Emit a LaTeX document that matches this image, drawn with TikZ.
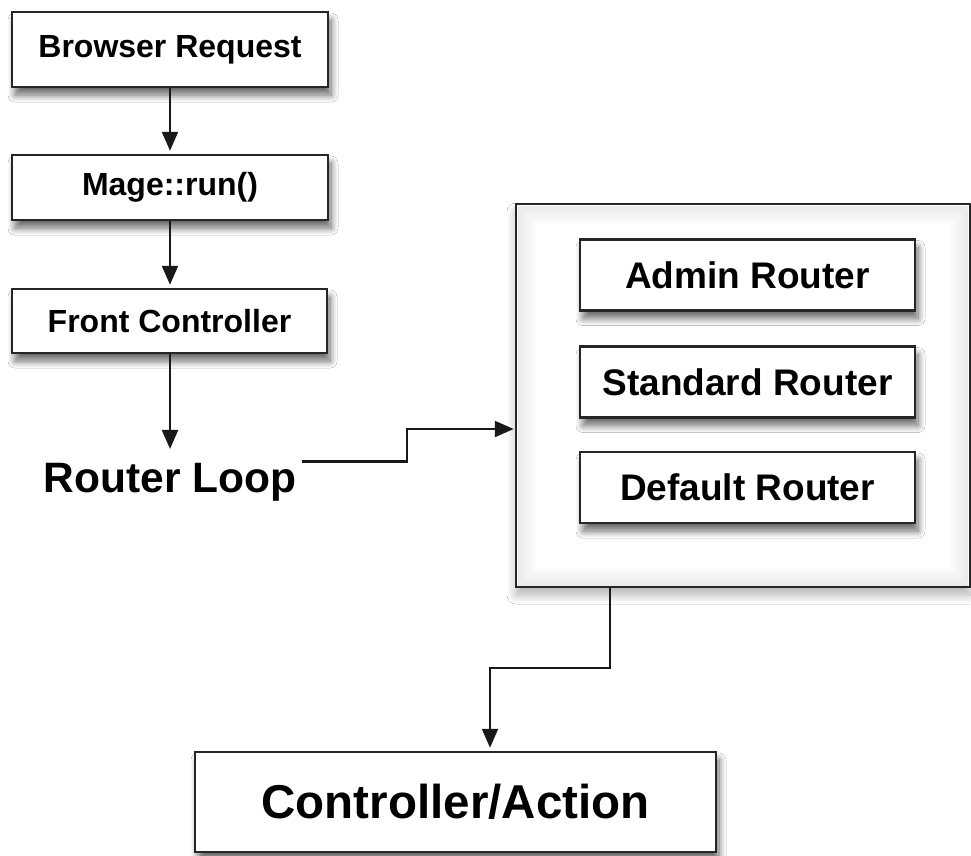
\documentclass[tikz,border=0pt]{standalone}
\usepackage{fontspec}
\setmainfont{Liberation Sans}
\usetikzlibrary{arrows.meta,shadows.blur,calc}
\begin{document}
\begin{tikzpicture}[x=1pt,y=-1pt,
  box/.style={draw=black!85,line width=2.5pt,fill=white,rectangle,inner sep=0pt,
    font=\bfseries\fontsize{32}{36}\selectfont,
    blur shadow={shadow xshift=3pt,shadow yshift=-8pt,shadow blur radius=7pt,shadow blur steps=12,shadow opacity=60}},
  rbox/.style={box,font=\bfseries\fontsize{37}{42}\selectfont,minimum width=335pt,minimum height=71pt},
  arr/.style={draw=black!90,line width=2.2pt,-{Triangle[width=16pt,length=19pt]},shorten >=3pt}]
\useasboundingbox (0,0) rectangle (971,855);
\fill[white] (0,0) rectangle (971,855);
% container
\node[draw=black!85,line width=2.5pt,fill=white,rectangle,inner sep=0pt,
  minimum width=454pt,minimum height=383pt,
  blur shadow={shadow xshift=0pt,shadow yshift=-8pt,shadow blur radius=9pt,shadow blur steps=12,shadow opacity=30}] (bb) at (743,395.5) {};
\foreach \i/\o in {1/6,2/5,3/4,4/3,5/2,6/1}{
  \draw[black,opacity=0.014*\o,line width=3pt] (516+3*\i,204+3*\i) rectangle (969-3*\i,587-3*\i);
}
% left column
\node[box,minimum width=316pt,minimum height=75pt] (br) at (170,49.5) {Browser Request};
\node[box,minimum width=316pt,minimum height=65pt] (mr) at (170,187.5) {Mage::run()};
\node[box,minimum width=315pt,minimum height=64pt] (fc) at (169.5,321) {Front Controller};
\node[anchor=base,font=\bfseries\fontsize{42.5}{46}\selectfont,inner xsep=5pt,inner ysep=13.6pt] (rl) at (170,492) {Router Loop};
% routers
\node[rbox] (ar) at (747.5,275) {Admin Router};
\node[rbox] (sr) at (747.5,382) {Standard Router};
\node[rbox] (dr) at (747.5,487.5) {Default Router};
% bottom
\node[box,font=\bfseries\fontsize{47.5}{52}\selectfont,minimum width=521pt,minimum height=100pt] (ca) at (455.5,802) {Controller/Action};
% connectors
\draw[arr] (br.south -| 170,0) -- (mr.north -| 170,0);
\draw[arr] (mr.south -| 170,0) -- (fc.north -| 170,0);
\draw[arr,shorten >=0pt] (fc.south -| 170,0) -- (rl.north -| 170,0);
\draw[arr,shorten >=1pt] ([yshift=20.3pt]rl.east) -| (407,429) -- (bb.west |- 0,429);
\draw[arr] (bb.south -| 610,0) -- (610,668) -| (ca.north -| 490,0);
\end{tikzpicture}
\end{document}
